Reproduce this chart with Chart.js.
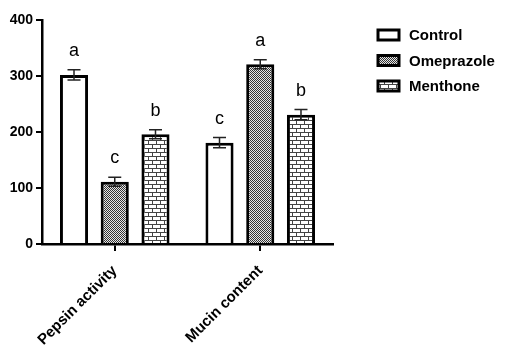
<!DOCTYPE html>
<html>
<head>
<meta charset="utf-8">
<script src="https://cdn.jsdelivr.net/npm/chart.js@4/dist/chart.umd.min.js"></script>
<style>
html,body{margin:0;padding:0;background:#fff;}
#wrap{width:506px;height:360px;}
</style>
</head>
<body>
<div id="wrap"><canvas id="c" width="506" height="360"></canvas></div>
<script>
const categories = ['Pepsin activity', 'Mucin content'];
const seriesNames = ['Control', 'Omeprazole', 'Menthone'];
const controlValues = [302, 181];
const omeprazoleValues = [111, 321];
const menthoneValues = [196, 231];
const controlErrors = [9, 9];
const omeprazoleErrors = [8, 8];
const menthoneErrors = [8, 9];
const controlLetters = ['a', 'c'];
const omeprazoleLetters = ['c', 'a'];
const menthoneLetters = ['b', 'b'];
const yTickValues = [0, 100, 200, 300, 400];

const FONT = '"Liberation Sans", Arial, sans-serif';

function checkerPattern() {
  const c = document.createElement('canvas');
  c.width = 2; c.height = 2;
  const g = c.getContext('2d');
  g.fillStyle = '#e6e6e6'; g.fillRect(0, 0, 2, 2);
  g.fillStyle = '#333'; g.fillRect(0, 0, 1, 1); g.fillRect(1, 1, 1, 1);
  return g.createPattern(c, 'repeat');
}
function brickPattern() {
  const c = document.createElement('canvas');
  c.width = 8; c.height = 8;
  const g = c.getContext('2d');
  g.fillStyle = '#fff'; g.fillRect(0, 0, 8, 8);
  g.fillStyle = '#444';
  g.fillRect(0, 0, 8, 1);
  g.fillRect(0, 4, 8, 1);
  g.fillRect(0, 0, 1, 4);
  g.fillRect(4, 4, 1, 4);
  return g.createPattern(c, 'repeat');
}

const fills = ['#ffffff', checkerPattern(), brickPattern()];
const seriesValues = [controlValues, omeprazoleValues, menthoneValues];
const seriesErrors = [controlErrors, omeprazoleErrors, menthoneErrors];
const seriesLetters = [controlLetters, omeprazoleLetters, menthoneLetters];

const datasets = seriesNames.map((name, i) => ({
  label: name,
  data: seriesValues[i],
  errors: seriesErrors[i],
  letters: seriesLetters[i],
  backgroundColor: fills[i],
  borderColor: '#000',
  borderWidth: 3,
  borderSkipped: 'start',
  categoryPercentage: 0.84,
  barPercentage: 0.69
}));

const errorPlugin = {
  id: 'errorBars',
  afterDatasetsDraw(chart) {
    const ctx = chart.ctx;
    const ys = chart.scales.y;
    ctx.save();
    chart.data.datasets.forEach((ds, di) => {
      const meta = chart.getDatasetMeta(di);
      meta.data.forEach((bar, i) => {
        const v = ds.data[i], e = ds.errors[i];
        const yTop = ys.getPixelForValue(v + e);
        const yBot = ys.getPixelForValue(v - e);
        const x = bar.x;
        ctx.strokeStyle = '#222';
        ctx.lineWidth = 1.5;
        ctx.beginPath();
        ctx.moveTo(x, yTop); ctx.lineTo(x, yBot);
        ctx.moveTo(x - 6.5, yTop); ctx.lineTo(x + 6.5, yTop);
        ctx.moveTo(x - 6.5, yBot); ctx.lineTo(x + 6.5, yBot);
        ctx.stroke();
        ctx.fillStyle = '#000';
        ctx.font = '18px ' + FONT;
        ctx.textAlign = 'center';
        ctx.textBaseline = 'alphabetic';
        ctx.fillText(ds.letters[i], x, yTop - 14);
      });
    });
    ctx.restore();
  }
};

const legendPlugin = {
  id: 'customLegend',
  afterDraw(chart) {
    const ctx = chart.ctx;
    ctx.save();
    chart.data.datasets.forEach((ds, i) => {
      const bx = 378, by = 30 + i * 25.5;
      ctx.fillStyle = ds.backgroundColor;
      ctx.fillRect(bx, by, 21, 10);
      ctx.strokeStyle = '#000';
      ctx.lineWidth = 3;
      ctx.strokeRect(bx, by, 21, 10);
      ctx.fillStyle = '#000';
      ctx.font = 'bold 15px ' + FONT;
      ctx.textAlign = 'left';
      ctx.textBaseline = 'middle';
      ctx.fillText(ds.label, 409, by + 6);
    });
    ctx.restore();
  }
};

new Chart(document.getElementById('c'), {
  type: 'bar',
  data: { labels: categories, datasets },
  options: {
    responsive: false,
    animation: false,
    devicePixelRatio: 1,
    layout: { padding: { left: 0, right: 173, top: 20, bottom: 0 } },
    plugins: { legend: { display: false }, tooltip: { enabled: false } },
    scales: {
      x: {
        grid: { display: true, drawOnChartArea: false, drawTicks: true, tickLength: 7, color: '#000', lineWidth: 2, offset: false },
        border: { display: true, color: '#000', width: 2.5 },
        ticks: { minRotation: 45, maxRotation: 45, color: '#000', font: { family: FONT, size: 15, weight: 'bold' }, padding: 11 },
        afterFit(scale) { scale.height = 116; }
      },
      y: {
        min: 0, max: 400,
        afterBuildTicks(scale) { scale.ticks = yTickValues.map(v => ({ value: v })); },
        grid: { display: true, drawOnChartArea: false, drawTicks: true, tickLength: 6, color: '#000', lineWidth: 2 },
        border: { display: true, color: '#000', width: 2.5 },
        ticks: { color: '#000', font: { family: FONT, size: 14, weight: 'bold' }, padding: 3 },
        afterFit(scale) { scale.width = 42; }
      }
    }
  },
  plugins: [errorPlugin, legendPlugin]
});
</script>
</body>
</html>
